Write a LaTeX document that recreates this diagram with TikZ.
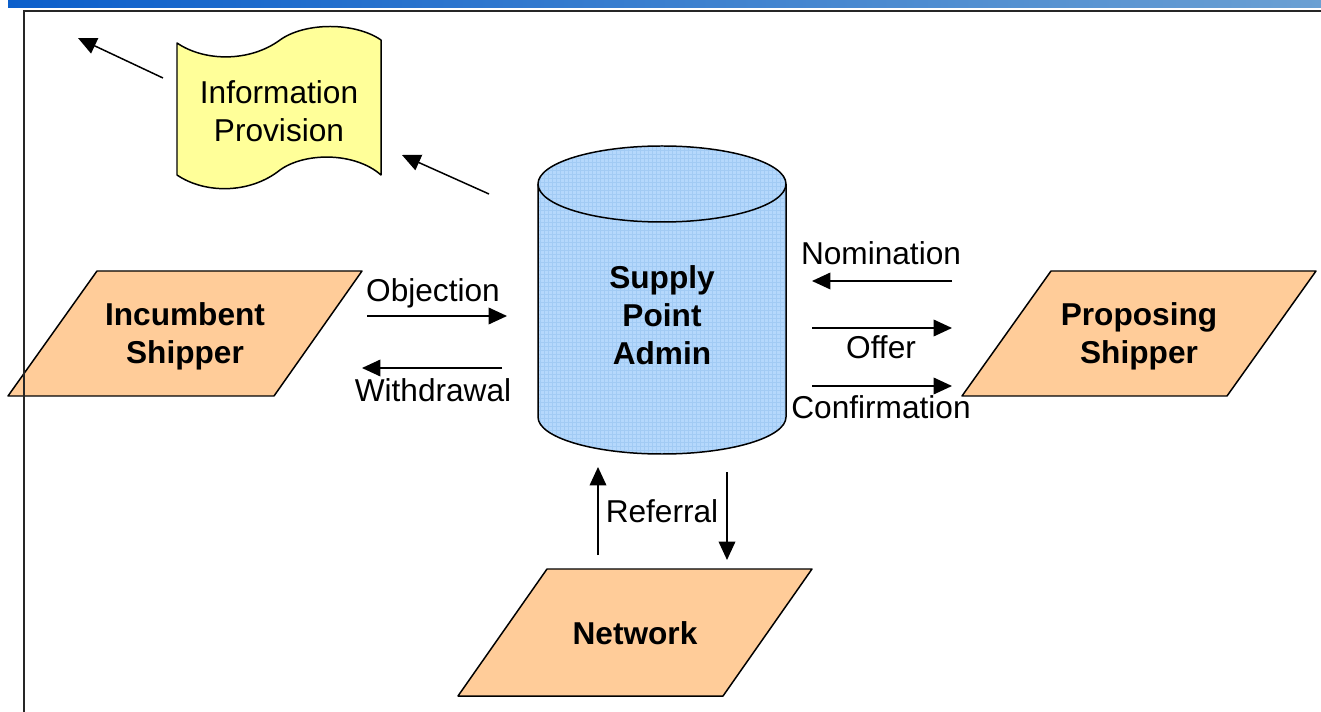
\documentclass[tikz,border=0pt]{standalone}
\usepackage{fontspec}
\setmainfont{Liberation Sans}
\usetikzlibrary{arrows.meta}
\definecolor{peach}{HTML}{FFCC99}
\definecolor{docyellow}{HTML}{FFFF99}
\definecolor{cylblue}{HTML}{B5D8FC}
\definecolor{cylgrid}{HTML}{A2CBF4}
\definecolor{barleft}{HTML}{0C5FCB}
\definecolor{barright}{HTML}{6BA0D3}
\tikzset{
  shapeline/.style={draw=black, line width=0.85pt, line join=round},
  para/.style={shapeline, fill=peach},
  docshape/.style={shapeline, fill=docyellow},
  conn/.style={line width=0.85pt, -{Triangle[length=10.5pt,width=9.5pt]}},
  lbl/.style={font=\fontsize{18}{21.5}\selectfont, align=center, inner sep=0pt},
  blbl/.style={lbl, font=\fontsize{18}{21.5}\selectfont\bfseries},
  framel/.style={line width=1.2pt, draw=black!85}
}
\begin{document}
\begin{tikzpicture}[x=0.02cm, y=-0.02cm]
\useasboundingbox (0,0) rectangle (1321,712);
% top bar
\shade[left color=barleft, right color=barright] (8,1) rectangle (1321,8);

% information provision document
\draw[docshape] (177,43) .. controls (205,62) and (250,62) .. (280,40)
  .. controls (305,22) and (355,22) .. (381,40) -- (381,175)
  .. controls (355,152) and (305,152) .. (280,170)
  .. controls (250,194) and (205,194) .. (177,175) -- cycle;
\node[lbl] (info) at (279,111) {Information\\Provision};

% cylinder
\fill[cylblue] (538,184) -- (538,417)
  .. controls (538,437.4) and (593.5,454) .. (662,454)
  .. controls (730.5,454) and (786,437.4) .. (786,417) -- (786,184) -- cycle;
\fill[cylblue] (662,184) ellipse [x radius=124, y radius=38];
\begin{scope}
  \clip (538,184) -- (538,417)
  .. controls (538,437.4) and (593.5,454) .. (662,454)
  .. controls (730.5,454) and (786,437.4) .. (786,417) -- (786,184)
  .. controls (786,163) and (730.5,146) .. (662,146)
  .. controls (593.5,146) and (538,163) .. (538,184) -- cycle;
  \foreach \gx in {540,544,...,786} {\draw[cylgrid, line width=0.25pt] (\gx,140) -- (\gx,460);}
  \foreach \gy in {146,150,...,456} {\draw[cylgrid, line width=0.25pt] (530,\gy) -- (790,\gy);}
\end{scope}
\draw[shapeline] (538,184) -- (538,417)
  .. controls (538,437.4) and (593.5,454) .. (662,454)
  .. controls (730.5,454) and (786,437.4) .. (786,417) -- (786,184);
\draw[shapeline] (662,184) ellipse [x radius=124, y radius=38];
\node[blbl] (spa) at (662,315) {Supply\\Point\\Admin};

% parallelograms
\draw[para] (97,271) -- (362,271) -- (274,396) -- (8,396) -- cycle;
\node[blbl] (inc) at (185,336) {Incumbent\\Shipper};
\draw[para] (1051,271) -- (1316,271) -- (1227,396) -- (962,396) -- cycle;
\node[blbl] (prop) at (1139,336) {Proposing\\Shipper};
\draw[para] (547,569) -- (812,569) -- (723,696) -- (458,696) -- cycle;
\node[blbl] (net) at (635,633) {Network};

% frame
\draw[framel] (24,712) -- (24,11) -- (1321,11);

% connectors
\coordinate (i1s) at (163,78); \coordinate (i1e) at (78,38);
\draw[conn] (i1s) -- (i1e);
\coordinate (i2s) at (489,194); \coordinate (i2e) at (402,155);
\draw[conn] (i2s) -- (i2e);

\coordinate (objS) at (367,316); \coordinate (objE) at (507,316);
\draw[conn] (objS) -- (objE);
\node[lbl] (objL) at (433,293) {Objection};
\coordinate (witS) at (502,368); \coordinate (witE) at (362,368);
\draw[conn] (witS) -- (witE);
\node[lbl] (witL) at (433,390) {Withdrawal};

\coordinate (nomS) at (952,281); \coordinate (nomE) at (812,281);
\draw[conn] (nomS) -- (nomE);
\node[lbl] (nomL) at (881,253) {Nomination};
\coordinate (offS) at (812,328); \coordinate (offE) at (952,328);
\draw[conn] (offS) -- (offE);
\node[lbl] (offL) at (881,347) {Offer};
\coordinate (conS) at (812,386); \coordinate (conE) at (952,386);
\draw[conn] (conS) -- (conE);
\node[lbl] (conL) at (881,407) {Confirmation};

\coordinate (refUS) at (598,555); \coordinate (refUE) at (598,467);
\draw[conn] (refUS) -- (refUE);
\coordinate (refDS) at (727,472); \coordinate (refDE) at (727,560);
\draw[conn] (refDS) -- (refDE);
\node[lbl] (refL) at (662,511) {Referral};
\end{tikzpicture}
\end{document}
